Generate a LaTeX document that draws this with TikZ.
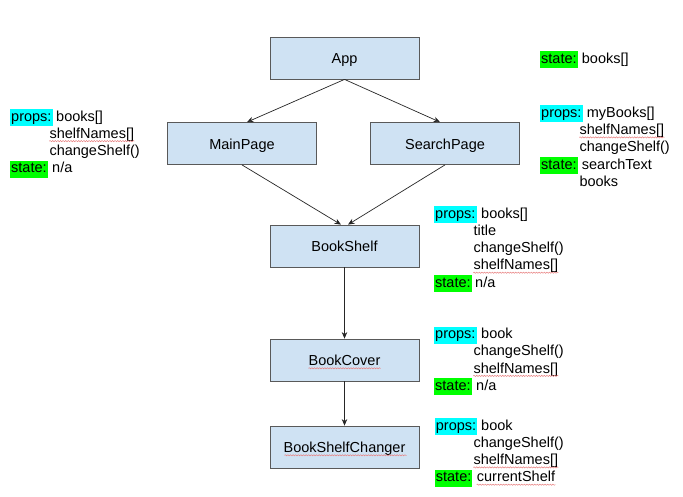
\documentclass[tikz,border=0pt]{standalone}
\usepackage{fontspec}
\setmainfont{Liberation Sans}
\usetikzlibrary{arrows.meta,decorations.pathmorphing}
\definecolor{boxfill}{HTML}{CFE2F3}
\definecolor{boxdraw}{HTML}{595959}
\definecolor{hlcyan}{HTML}{00FFFF}
\definecolor{hlgreen}{HTML}{00FF00}
\definecolor{squigred}{HTML}{E88080}
\tikzset{
  comp/.style={draw=boxdraw, fill=boxfill, line width=0.8pt, minimum width=149pt, minimum height=42pt, inner sep=0pt, text height=13pt, text depth=2pt},
  txt/.style={anchor=base west, inner sep=0pt},
  hl/.style={anchor=base west, inner xsep=1pt, inner ysep=1pt, text height=11pt, text depth=4pt},
  hlp/.style={hl, fill=hlcyan},
  hls/.style={hl, fill=hlgreen},
  conn/.style={draw=black!85, line width=0.7pt, -{Stealth[length=6.5pt,width=5.5pt]}},
  squig/.style={draw=squigred, line width=0.5pt, decorate, decoration={snake, amplitude=0.6pt, segment length=2.6pt}}
}
\newcommand{\squigunder}[1]{\draw[squig] ([yshift=-2.8pt]#1.base west) -- ([yshift=-2.8pt]#1.base east);}
\begin{document}
\begin{tikzpicture}[x=1pt, y=-1pt, font=\fontsize{14.5}{17.3}\selectfont]
\useasboundingbox[fill=white] (0,0) rectangle (683,496);

% component boxes
\node[comp] (app) at (344.5,58) {App};
\node[comp] (main) at (242,143.5) {MainPage};
\node[comp] (search) at (445,143.5) {SearchPage};
\node[comp] (shelf) at (344.5,246) {BookShelf};
\node[comp] (cover) at (344.5,360) {BookCover};
\node[comp] (changer) at (344.5,447) {BookShelfChanger};

\node[txt] (coverlbl) at ([xshift=-36pt,yshift=-5.5pt]cover.center) {\phantom{BookCover}};
\node[txt] (changerlbl) at ([xshift=-60pt,yshift=-5.5pt]changer.center) {\phantom{BookShelfChanger}};
\squigunder{coverlbl}
\squigunder{changerlbl}

% connectors
\draw[conn] (app.south) -- ([xshift=5pt]main.north);
\draw[conn] (app.south) -- ([xshift=-5pt]search.north);
\draw[conn] (main.south) -- ([xshift=-3.5pt]shelf.north);
\draw[conn] (search.south) -- ([xshift=3.5pt]shelf.north);
\draw[conn] (shelf.south) -- (cover.north);
\draw[conn] (cover.south) -- (changer.north);

% MainPage annotation (left)
\node[hlp] (mp) at (10,121) {props:};
\node[txt] (mp1) at (56,121) {books[]};
\node[txt] (mp2) at (49.3,138.3) {shelfNames[]};
\node[txt] (mp3) at (49.3,155.6) {changeShelf()};
\node[hls] (ms) at (10,172.9) {state:};
\node[txt] (ms1) at (52,172.9) {n/a};
\squigunder{mp2}

% App annotation
\node[hls] (as) at (540,63) {state:};
\node[txt] (as1) at (581.7,63) {books[]};

% SearchPage annotation
\node[hlp] (sp) at (540,117.3) {props:};
\node[txt] (sp1) at (586.7,117.3) {myBooks[]};
\node[txt] (sp2) at (579.3,134.6) {shelfNames[]};
\node[txt] (sp3) at (579.3,151.9) {changeShelf()};
\node[hls] (ss) at (540,169.2) {state:};
\node[txt] (ss1) at (581.7,169.2) {searchText};
\node[txt] (ss2) at (579.3,186.5) {books};
\squigunder{sp2}

% BookShelf annotation
\node[hlp] (bp) at (434,218) {props:};
\node[txt] (bp1) at (481,218) {books[]};
\node[txt] (bp2) at (473.3,235.3) {title};
\node[txt] (bp3) at (473.3,252.6) {changeShelf()};
\node[txt] (bp4) at (473.3,269.9) {shelfNames[]};
\node[hls] (bs) at (434,287.2) {state:};
\node[txt] (bs1) at (475,287.2) {n/a};
\squigunder{bp4}

% BookCover annotation
\node[hlp] (cp) at (434,338.5) {props:};
\node[txt] (cp1) at (481,338.5) {book};
\node[txt] (cp2) at (473.3,355.8) {changeShelf()};
\node[txt] (cp3) at (473.3,373.1) {shelfNames[]};
\node[hls] (cs) at (434,390.4) {state:};
\node[txt] (cs1) at (476,390.4) {n/a};
\squigunder{cp3}

% BookShelfChanger annotation
\node[hlp] (kp) at (434.7,430) {props:};
\node[txt] (kp1) at (481,430) {book};
\node[txt] (kp2) at (473.3,447.3) {changeShelf()};
\node[txt] (kp3) at (473.3,464.6) {shelfNames[]};
\node[hls] (ks) at (434.7,481.9) {state:};
\node[txt] (ks1) at (476.7,481.9) {currentShelf};
\squigunder{kp3}
\squigunder{ks1}
\end{tikzpicture}
\end{document}
